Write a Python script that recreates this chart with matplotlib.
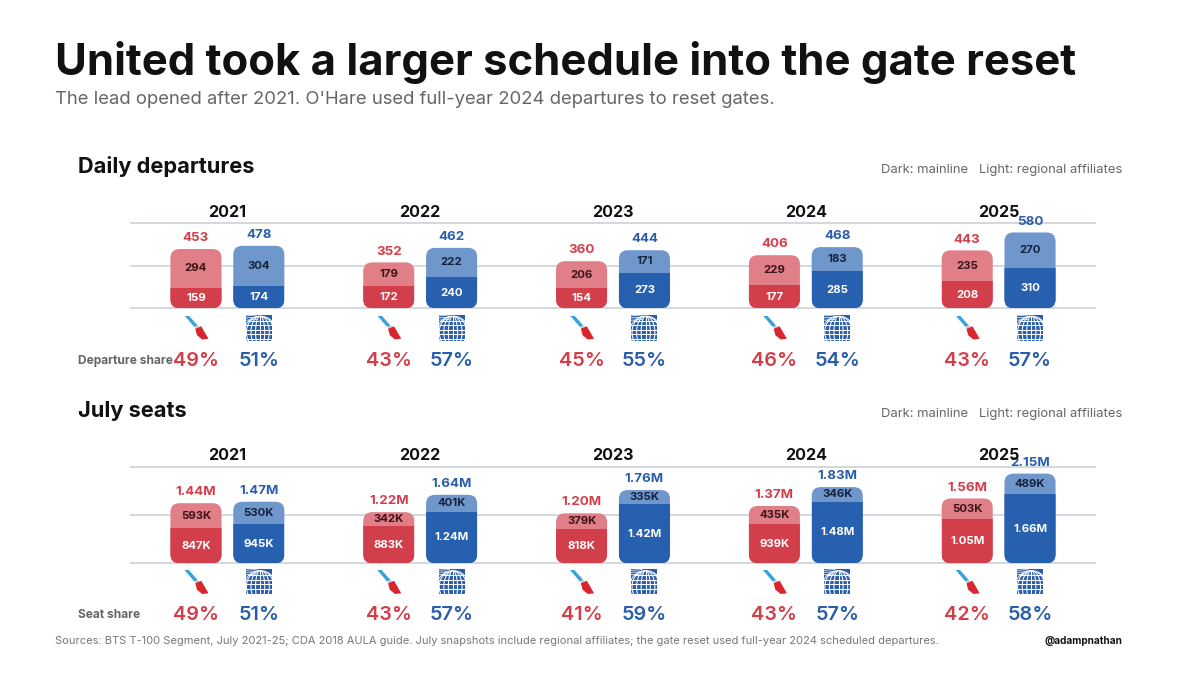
import numpy as np
import matplotlib
matplotlib.use("Agg")
import matplotlib.pyplot as plt
from matplotlib.patches import FancyBboxPatch, Rectangle, Polygon, Circle

plt.rcParams['font.family'] = ['Inter', 'DejaVu Sans']

# ---------------- data ----------------
years = ["2021", "2022", "2023", "2024", "2025"]

dep_aa_main = [159, 172, 154, 177, 208]
dep_aa_reg = [294, 179, 206, 229, 235]
dep_aa_total = ["453", "352", "360", "406", "443"]
dep_ua_main = [174, 240, 273, 285, 310]
dep_ua_reg = [304, 222, 171, 183, 270]
dep_ua_total = ["478", "462", "444", "468", "580"]
dep_aa_share = [49, 43, 45, 46, 43]
dep_ua_share = [51, 57, 55, 54, 57]

seat_aa_main = [0.847, 0.883, 0.818, 0.939, 1.05]
seat_aa_reg = [0.593, 0.342, 0.379, 0.435, 0.503]
seat_aa_total = ["1.44M", "1.22M", "1.20M", "1.37M", "1.56M"]
seat_ua_main = [0.945, 1.24, 1.42, 1.48, 1.66]
seat_ua_reg = [0.530, 0.401, 0.335, 0.346, 0.489]
seat_ua_total = ["1.47M", "1.64M", "1.76M", "1.83M", "2.15M"]
seat_aa_share = [49, 43, 41, 43, 42]
seat_ua_share = [51, 57, 59, 57, 58]

# ---------------- styling ----------------
W, H = 1200, 675
AA_DARK, AA_LIGHT, AA_TEXT = "#D23F4A", "#E07F87", "#D23F4A"
UA_DARK, UA_LIGHT, UA_TEXT = "#2660AE", "#7097CC", "#2A5DAA"
AA_INNER, UA_INNER = "#3B1418", "#14223D"
GRID = "#D3D8DF"

fig = plt.figure(figsize=(W / 100, H / 100), dpi=100)
fig.patch.set_facecolor("white")


def fx(x):
    return x / W


def fy(y):
    return 1 - y / H


def T(x, y, s, **kw):
    kw.setdefault("va", "baseline")
    return fig.text(fx(x), fy(y), s, **kw)


# header
T(55, 75, "United took a larger schedule into the gate reset", fontsize=31.4,
  fontweight="bold", color="#111111")
T(55, 104.5, "The lead opened after 2021. O'Hare used full-year 2024 departures to reset gates.",
  fontsize=13.3, color="#666666")

AX_L, AX_R = 131, 1095
OFF, BW = 0.163, 0.265


def fmt_seat(v):
    return f"{v:.2f}M" if v >= 1 else f"{v * 1000:.0f}K"


def fmt_dep(v):
    return f"{v:.0f}"


def draw_aa_logo(cx, top):
    lax = fig.add_axes([fx(cx - 12), fy(top + 24), fx(24), 24 / H])
    lax.set_xlim(0, 1)
    lax.set_ylim(0, 1)
    lax.axis("off")
    lax.add_patch(Polygon([(0.0, 1.0), (0.18, 1.0), (0.55, 0.58), (0.40, 0.53)],
                          closed=True, color="#36A3DD", lw=0))
    lax.add_patch(Polygon([(0.40, 0.53), (0.55, 0.58), (0.63, 0.53), (0.47, 0.46)],
                          closed=True, color="#C3CBD3", lw=0))
    lax.add_patch(Polygon([(0.45, 0.45), (0.70, 0.55), (1.0, 0.03), (0.74, 0.0),
                           (0.52, 0.18)],
                          closed=True, color="#D7262E", lw=0))


def draw_ua_logo(cx, top):
    lax = fig.add_axes([fx(cx - 13), fy(top + 26), fx(26), 26 / H])
    lax.set_xlim(0, 1)
    lax.set_ylim(0, 1)
    lax.axis("off")
    lax.add_patch(Rectangle((0, 0), 1, 1, color="#2A5DAA", lw=0))
    gc, gr = (0.55, 0.32), 0.62
    glob = Circle(gc, gr, transform=lax.transData)
    clipbox = Rectangle((0, 0), 1, 1, transform=lax.transData)
    for yy in np.linspace(gc[1] - gr, gc[1] + gr, 8)[1:-1]:
        ln, = lax.plot([0, 1], [yy, yy], color="white", lw=0.75)
        ln.set_clip_path(glob)
    t = np.linspace(-1, 1, 60)
    for k in np.linspace(-0.85, 0.85, 7):
        xs = gc[0] + gr * k * np.sqrt(1 - t ** 2)
        ys = gc[1] + gr * t
        ln, = lax.plot(xs, ys, color="white", lw=0.75)
        ln.set_clip_path(glob)
    ring = Circle(gc, gr, fill=False, edgecolor="white", lw=0.6)
    lax.add_patch(ring)
    ring.set_clip_path(clipbox)
    for yy in [0.78, 0.87, 0.95]:
        lax.plot([0.0, 0.42], [yy, yy + 0.03], color="white", lw=0.6, alpha=0.85)


def panel(base_y, top_y, ymax, aa_main, aa_reg, aa_tot, ua_main, ua_reg, ua_tot,
          aa_share, ua_share, fmt, title, share_label, title_base, year_base,
          share_base, logo_top):
    ax = fig.add_axes([fx(AX_L), fy(base_y), (AX_R - AX_L) / W, (base_y - top_y) / H])
    ax.set_xlim(-0.5, len(years) - 0.5)
    ax.set_ylim(0, ymax)
    ax.axis("off")
    for g in [0, ymax / 2, ymax]:
        ax.axhline(g, color=GRID, lw=1.4, zorder=0, clip_on=False)

    xppx = len(years) / (AX_R - AX_L)
    yppx = ymax / (base_y - top_y)
    r = 9 * xppx
    asp = yppx / xppx

    x = np.arange(len(years))
    for i in range(len(years)):
        for dx, mains, regs, tots, dark, light, tcol, icol in [
            (-OFF, aa_main, aa_reg, aa_tot, AA_DARK, AA_LIGHT, AA_TEXT, AA_INNER),
            (OFF, ua_main, ua_reg, ua_tot, UA_DARK, UA_LIGHT, UA_TEXT, UA_INNER),
        ]:
            xc = x[i] + dx
            m, rg = mains[i], regs[i]
            tot = m + rg
            full = FancyBboxPatch((xc - BW / 2, 0), BW, tot,
                                  boxstyle=f"round,pad=0,rounding_size={r}",
                                  mutation_aspect=asp, facecolor=light,
                                  edgecolor="none", zorder=2)
            ax.add_patch(full)
            dk = Rectangle((xc - BW / 2, 0), BW, m, facecolor=dark,
                           edgecolor="none", zorder=3)
            ax.add_patch(dk)
            dk.set_clip_path(full)
            ax.text(xc, m / 2, fmt(m), ha="center", va="center", color="white",
                    fontsize=8.2, fontweight="bold", zorder=4)
            ax.text(xc, m + rg / 2, fmt(rg), ha="center", va="center", color=icol,
                    fontsize=8.2, fontweight="bold", zorder=4)
            ax.annotate(tots[i], (xc, tot), xytext=(0, 3.5), textcoords="offset points",
                        ha="center", va="bottom", color=tcol, fontsize=9.6,
                        fontweight="bold", zorder=4, annotation_clip=False)

    for i in range(len(years)):
        cx = AX_L + (x[i] + 0.5) / xppx
        T(cx, year_base, years[i], ha="center", fontsize=11.6, fontweight="bold",
          color="#111111")
        aa_cx = cx - OFF / xppx
        ua_cx = cx + OFF / xppx
        draw_aa_logo(aa_cx + 0.5, logo_top + 1)
        draw_ua_logo(ua_cx, logo_top)
        T(aa_cx, share_base, f"{aa_share[i]}%", ha="center", fontsize=14.3,
          fontweight="semibold", color=AA_TEXT)
        T(ua_cx, share_base, f"{ua_share[i]}%", ha="center", fontsize=14.3,
          fontweight="semibold", color=UA_TEXT)

    T(78, title_base, title, fontsize=15.7, fontweight="bold", color="#111111")
    T(1122, title_base - 0.5, "Dark: mainline   Light: regional affiliates", ha="right",
      fontsize=9.4, color="#666666")
    T(78, share_base - 2, share_label, fontsize=8.6, fontweight="bold", color="#666666")
    return ax


panel(308.3, 223.3, 650, dep_aa_main, dep_aa_reg, dep_aa_total, dep_ua_main,
      dep_ua_reg, dep_ua_total, dep_aa_share, dep_ua_share, fmt_dep,
      "Daily departures", "Departure share", 173, 216.7, 365.7, 314.5)

panel(563.3, 467.3, 2.30, seat_aa_main, seat_aa_reg, seat_aa_total, seat_ua_main,
      seat_ua_reg, seat_ua_total, seat_aa_share, seat_ua_share, fmt_seat,
      "July seats", "Seat share", 417.5, 460.5, 620, 569)

T(55, 643.5, "Sources: BTS T-100 Segment, July 2021-25; CDA 2018 AULA guide. July snapshots "
  "include regional affiliates; the gate reset used full-year 2024 scheduled departures.",
  fontsize=8.0, color="#777777")
T(1122, 643.5, "@adampnathan", ha="right", fontsize=7.2, fontweight="bold", color="#111111")

fig.savefig("out.png", dpi=100, facecolor="white")
